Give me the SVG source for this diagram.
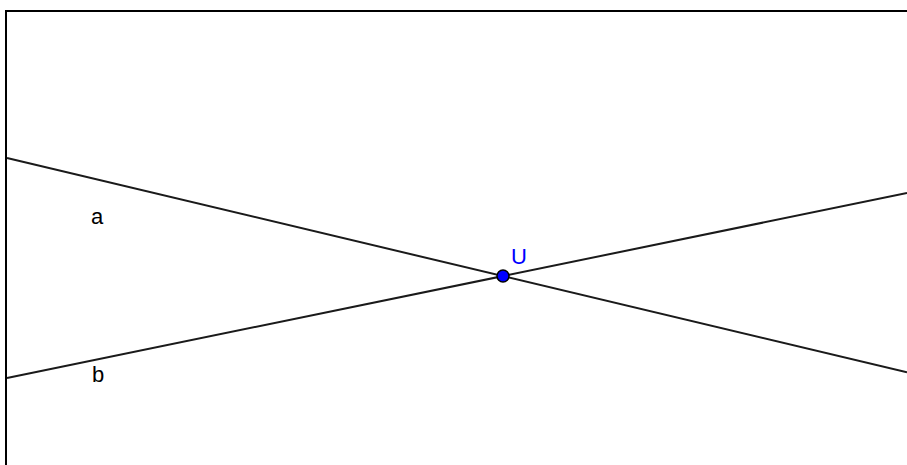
<svg xmlns="http://www.w3.org/2000/svg" width="907" height="465" viewBox="0 0 907 465">
<style>
.ln{stroke:#1a1a1a;stroke-width:2;fill:none}
.lbl{font-family:"Liberation Sans",Arial,sans-serif;font-size:22px}
</style>
<rect x="0" y="0" width="907" height="465" fill="#fff"/>
<g id="frame">
<path d="M6 465 V11 H907" stroke="#000" stroke-width="2" fill="none"/>
</g>
<g id="connectors">
<line id="line-a" class="ln" x1="7" y1="158" x2="907" y2="372.3"/>
<line id="line-b" class="ln" x1="7" y1="378" x2="907" y2="193"/>
</g>
<g id="label-a"><text class="lbl" x="91" y="224" fill="#000">a</text></g>
<g id="label-b"><text class="lbl" x="92" y="382" fill="#000">b</text></g>
<g id="point-U">
<circle cx="503" cy="276" r="6" fill="#0000ff" stroke="#000" stroke-width="1.5"/>
<text class="lbl" x="511" y="264" fill="#0000ff">U</text>
</g>
</svg>
